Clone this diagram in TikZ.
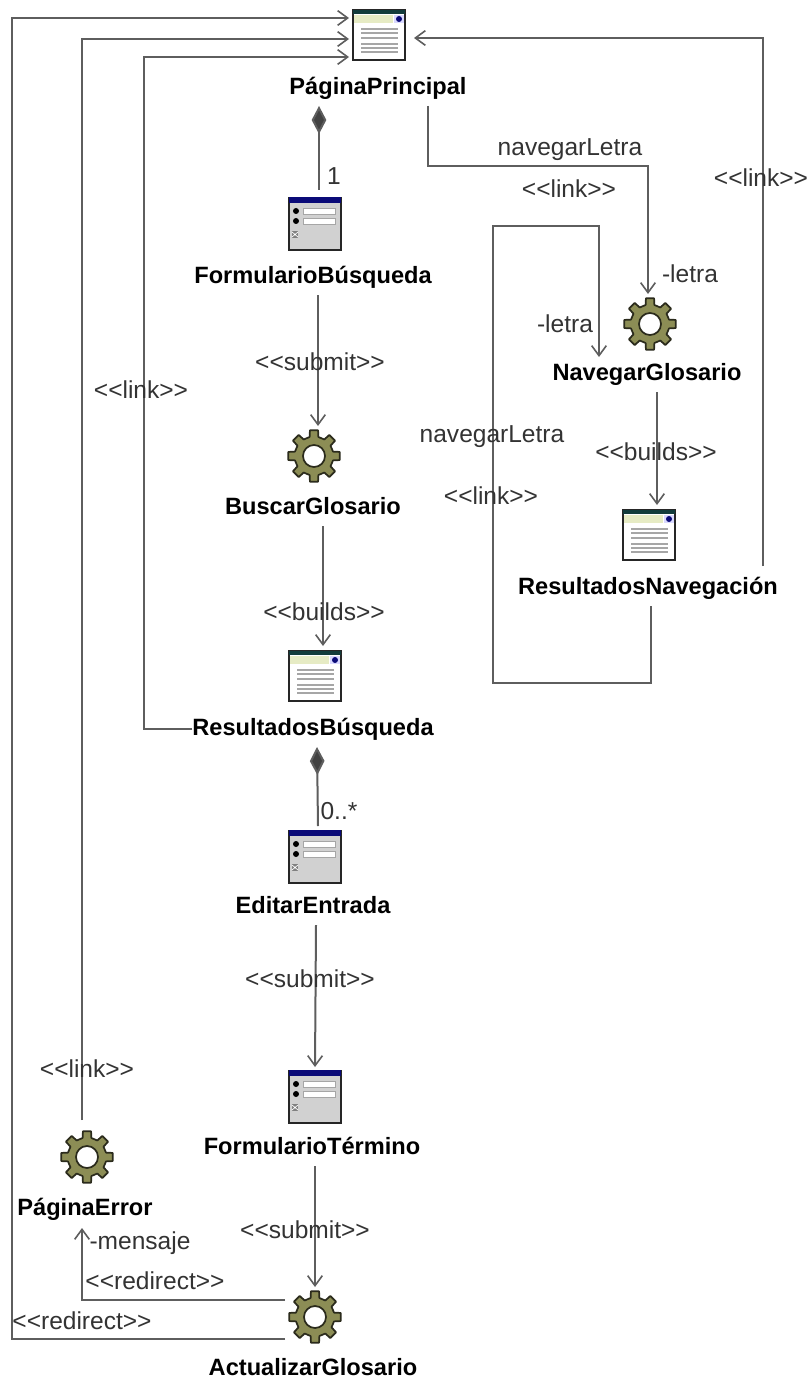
\documentclass[tikz,border=0pt]{standalone}
\usepackage{fontspec}
\setmainfont{Liberation Sans}
\usetikzlibrary{arrows.meta}
\definecolor{linegray}{HTML}{5E5E5E}
\definecolor{gearfill}{HTML}{8C8D55}
\definecolor{geardark}{HTML}{2B2B1C}
\definecolor{navy}{HTML}{0A0A78}
\definecolor{teal}{HTML}{123C3C}
\definecolor{pale}{HTML}{E6EBC4}
\newcommand{\lla}{<{}<}
\newcommand{\rra}{>{}>}
\tikzset{
  iconbox/.style={minimum size=45pt,inner sep=0pt,outer sep=0pt},
  classlabel/.style={font=\fontsize{17.7}{20}\selectfont\bfseries,inner sep=0pt,outer sep=0pt,minimum height=30pt,text height=15pt,text depth=2pt,text=black},
  tag/.style={font=\fontsize{18.4}{20}\selectfont,inner sep=0pt,text=black!80},
  conn/.style={draw=linegray,line width=1.5pt,-{Straight Barb[length=7.5pt,width=11pt,line width=1.2pt]}},
  comp/.style={draw=linegray,line width=1.5pt,{Diamond[length=21pt,width=11pt,fill=linegray!70!black]}-},
  gearicon/.pic={
    \filldraw[fill=gearfill,draw=geardark,line width=1.3pt,line join=round]
      (-13:19.5) \foreach \i in {0,...,7}{
        -- ({\i*45-13}:19.5) -- ({\i*45-9}:26) -- ({\i*45+9}:26) -- ({\i*45+13}:19.5)
      } -- cycle;
    \filldraw[fill=white,draw=geardark,line width=1.3pt] (0,0) circle[radius=11];
  },
  pageicon/.pic={
    \filldraw[fill=white,draw=black!85,line width=1.5pt] (-26,-25) rectangle (26,25);
    \fill[teal] (-26,-25) rectangle (26,-21);
    \fill[pale] (-25,-20) rectangle (14,-12);
    \fill[blue!15] (15,-20) rectangle (25,-12);
    \fill[navy] (20,-16) circle[radius=3];
    \foreach \y in {-6,-2,3,9,13,17}{
      \draw[gray!70,line width=.8pt] (-18,\y) -- (19,\y);
    }
  },
  formicon/.pic={
    \filldraw[fill=black!18,draw=black!85,line width=1.5pt] (-26,-26) rectangle (26,26);
    \fill[navy] (-26,-27) rectangle (26,-21);
    \fill[black] (-19,-13) circle[radius=3];
    \fill[black] (-19,-3) circle[radius=3];
    \filldraw[fill=white,draw=gray!70,line width=.6pt] (-12,-16) rectangle (20,-10);
    \filldraw[fill=white,draw=gray!70,line width=.6pt] (-12,-6) rectangle (20,0);
    \fill[black!50] (-23,7) rectangle (-17,14);
    \draw[white,line width=.5pt] (-23,8) -- (-17,13) (-23,13) -- (-17,8);
  }
}
\begin{document}
\begin{tikzpicture}[x=0.75pt,y=-0.75pt]
\useasboundingbox[fill=white] (0,0) rectangle (811,1380);

% icons
\node[iconbox] (pp) at (379,35) {}; \pic at (pp) {pageicon};
\node[iconbox] (fb) at (315,224) {}; \pic at (fb) {formicon};
\node[iconbox] (bg) at (314,456) {}; \pic at (bg) {gearicon};
\node[iconbox] (rb) at (315,676) {}; \pic at (rb) {pageicon};
\node[iconbox] (ee) at (315,857) {}; \pic at (ee) {formicon};
\node[iconbox] (ft) at (315,1097) {}; \pic at (ft) {formicon};
\node[iconbox] (ag) at (315,1317) {}; \pic at (ag) {gearicon};
\node[iconbox] (pe) at (87,1157) {}; \pic at (pe) {gearicon};
\node[iconbox] (ng) at (650,324) {}; \pic at (ng) {gearicon};
\node[iconbox] (rn) at (649,535) {}; \pic at (rn) {pageicon};

% class labels
\node[classlabel] (ppl) at (378,86) {PáginaPrincipal};
\node[classlabel] (fbl) at (313,275) {FormularioBúsqueda};
\node[classlabel] (bgl) at (313,506) {BuscarGlosario};
\node[classlabel] (rbl) at (313,727) {ResultadosBúsqueda};
\node[classlabel] (eel) at (313,905) {EditarEntrada};
\node[classlabel] (ftl) at (312,1146) {FormularioTérmino};
\node[classlabel] (agl) at (313,1367) {ActualizarGlosario};
\node[classlabel] (pel) at (85,1207) {PáginaError};
\node[classlabel] (ngl) at (647,372) {NavegarGlosario};
\node[classlabel] (rnl) at (648,586) {ResultadosNavegación};

\coordinate (loopend) at (599,357);

% connectors
\draw[comp] ([shift={(-59,0)}]ppl.south) -- ([shift={(4,-4)}]fb.north);
\draw[comp] ([shift={(4,0)}]rbl.south) -- ([shift={(3,-1)}]ee.north);
\draw[conn] ([shift={(5,0)}]fbl.south) -- ([shift={(4,0)}]bg.north);
\draw[conn] ([shift={(10,0)}]bgl.south) -- ([shift={(8,0)}]rb.north);
\draw[conn] ([shift={(3,0)}]eel.south) -- (ft.north);
\draw[conn] ([shift={(3,0)}]ftl.south) -- (ag.north);
\draw[conn] ([shift={(10,0)}]ngl.south) -- ([shift={(8,0)}]rn.north);
\draw[conn] ([shift={(50,0)}]ppl.south) -- ++(0,60) -| ([shift={(-2,0)}]ng.north);
\draw[conn] ([shift={(115,0)}]rnl.north) |- ([shift={(5,3)}]pp.east);
\draw[conn] ([shift={(3,0)}]rnl.south) -- ++(0,77) -- ++(-158,0) -- ++(0,-457) -| (loopend);
\draw[conn] ([shift={(0,2)}]rbl.west) -- ++(-48,0) |- ([shift={(0,22)}]pp.west);
\draw[conn] ([shift={(-5,-7)}]pe.north) |- ([shift={(0,4)}]pp.west);
\draw[conn] ([shift={(0,22)}]ag.west) -- ++(-273,0) |- ([shift={(0,-17)}]pp.west);
\draw[conn] ([shift={(0,-17)}]ag.west) -| ([shift={(-3,1)}]pel.south);

% connector labels
\node[tag] (t1) at (334,176) {1};
\node[tag] (t2) at (339,811) {0..*};
\node[tag] (t3) at (320,362) {\lla submit\rra};
\node[tag] (t4) at (324,612) {\lla builds\rra};
\node[tag] (t5) at (310,979) {\lla submit\rra};
\node[tag] (t6) at (305,1230) {\lla submit\rra};
\node[tag] (t7) at (155,1281) {\lla redirect\rra};
\node[tag] (t8) at (82,1321) {\lla redirect\rra};
\node[tag] (t9) at (140,1243) {-mensaje};
\node[tag] (t10) at (87,1069) {\lla link\rra};
\node[tag] (t11) at (141,390) {\lla link\rra};
\node[tag] (t12) at (570,150) {navegarLetra};
\node[tag] (t13) at (569,189) {\lla link\rra};
\node[tag] (t14) at (690,274) {-letra};
\node[tag] (t15) at (656,452) {\lla builds\rra};
\node[tag] (t16) at (761,178) {\lla link\rra};
\node[tag] (t17) at (565,324) {-letra};
\node[tag] (t18) at (492,437) {navegarLetra};
\node[tag] (t19) at (491,496) {\lla link\rra};
\end{tikzpicture}
\end{document}
